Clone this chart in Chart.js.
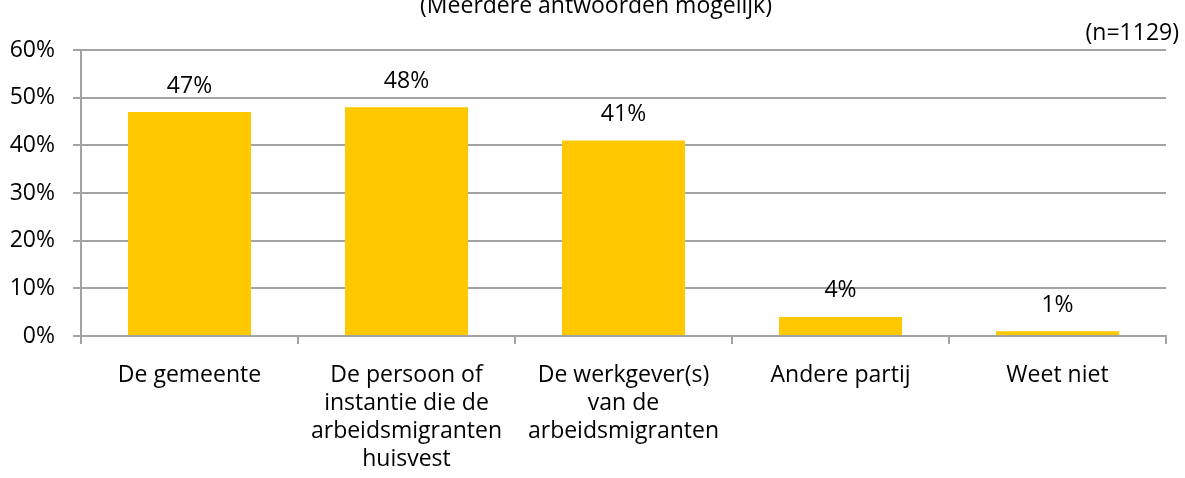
<!DOCTYPE html>
<html>
<head>
<meta charset="utf-8">
<script src="https://cdn.jsdelivr.net/npm/chart.js@4/dist/chart.umd.min.js"></script>
<style>
  html, body { margin: 0; padding: 0; background: #fff; }
  #wrap { width: 1185px; height: 478px; }
</style>
</head>
<body>
<div id="wrap"><canvas id="chart" width="1185" height="478"></canvas></div>
<script>
const categories = [
  'De gemeente',
  ['De persoon of', 'instantie die de', 'arbeidsmigranten', 'huisvest'],
  ['De werkgever(s)', 'van de', 'arbeidsmigranten'],
  'Andere partij',
  'Weet niet'
];
const shares = [47, 48, 41, 4, 1];
const yTicks = [0, 10, 20, 30, 40, 50, 60];

const subtitle = '(Meerdere antwoorden mogelijk)';
const sampleNote = '(n=1129)';

const FONT = '"Open Sans", "Noto Sans", sans-serif';
const GRID = '#a3a3a3';

// value labels above each bar + the header texts
const annotate = {
  id: 'annotate',
  afterDatasetsDraw(chart) {
    const ctx = chart.ctx;
    ctx.save();
    ctx.fillStyle = '#000';
    ctx.font = '23px ' + FONT;
    ctx.textAlign = 'center';
    ctx.textBaseline = 'middle';
    chart.getDatasetMeta(0).data.forEach((bar, i) => {
      ctx.fillText(shares[i] + '%', bar.x, bar.y - 26);
    });
    ctx.textBaseline = 'alphabetic';
    ctx.fillText(subtitle, 596, 13);
    ctx.textAlign = 'right';
    ctx.textBaseline = 'middle';
    ctx.fillText(sampleNote, 1179, 33);
    ctx.restore();
  }
};

new Chart(document.getElementById('chart'), {
  type: 'bar',
  data: {
    labels: categories,
    datasets: [{
      data: shares,
      backgroundColor: '#ffc800',
      categoryPercentage: 1,
      barPercentage: 0.567
    }]
  },
  options: {
    responsive: false,
    animation: false,
    layout: { padding: { top: 50, right: 19, left: 0, bottom: 0 } },
    plugins: { legend: { display: false }, tooltip: { enabled: false } },
    scales: {
      x: {
        grid: { drawOnChartArea: false, color: GRID, lineWidth: 2, tickLength: 8 },
        border: { color: GRID, width: 2 },
        ticks: { color: '#000', font: { family: FONT, size: 23, lineHeight: '28px' }, padding: 17, maxRotation: 0, autoSkip: false },
        afterFit(scale) { scale.height = 142; }
      },
      y: {
        min: 0,
        max: 60,
        afterBuildTicks(scale) { scale.ticks = yTicks.map(v => ({ value: v })); },
        grid: { color: GRID, lineWidth: 2, tickLength: 8 },
        border: { color: GRID, width: 2 },
        ticks: { color: '#000', font: { family: FONT, size: 23 }, padding: 18, callback: v => v + '%' },
        afterFit(scale) { scale.width = 81; }
      }
    }
  },
  plugins: [annotate]
});
</script>
</body>
</html>
